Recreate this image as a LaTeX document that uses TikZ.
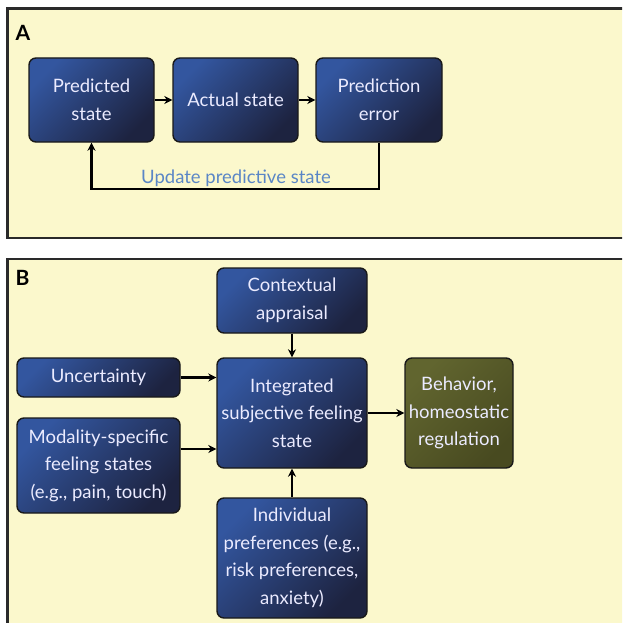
\documentclass[tikz,border=0pt]{standalone}
\usepackage{fontspec}
\setmainfont{Lato}
\usetikzlibrary{arrows.meta}
\definecolor{bg}{HTML}{FBF8CC}
\definecolor{boxlight}{HTML}{33569F}
\definecolor{boxdark}{HTML}{1D2340}
\definecolor{olivelight}{HTML}{61652F}
\definecolor{olivedark}{HTML}{484A20}
\definecolor{upd}{HTML}{5A86C6}
\definecolor{frame}{HTML}{2A2A2A}
\tikzset{
  panel/.style={fill=bg, draw=frame, line width=2.4pt},
  box/.style={draw=black!90, line width=1.4pt, rounded corners=7pt,
    top color=boxlight, bottom color=boxdark, shading angle=45,
    text=white!92!blue, align=center, font=\fontsize{18.5}{27.5}\selectfont, inner sep=0pt},
  olivebox/.style={box, top color=olivelight, bottom color=olivedark, shading angle=45},
  arr/.style={-{Stealth[length=8pt,width=8pt]}, line width=2.2pt, draw=black},
  plabel/.style={font=\bfseries\fontsize{21}{21}\selectfont, anchor=west},
}
\begin{document}
\begin{tikzpicture}[x=1pt,y=-1pt]
\useasboundingbox (0,0) rectangle (622,623);
\clip (0,0) rectangle (622,623);
% panels
\draw[panel] (7.5,8.5) rectangle (650,238);
\draw[panel] (7.5,259) rectangle (650,660);
\node[plabel] (la) at (12,33) {A};
\node[plabel] (lb) at (12,278) {B};
% panel A
\node[box, minimum width=125pt, minimum height=84pt] (pred) at (91.5,100) {Predicted\\state};
\node[box, minimum width=125pt, minimum height=84pt] (act) at (235.5,100) {Actual state};
\node[box, minimum width=126pt, minimum height=84pt] (perr) at (379,100) {Prediction\\error};
\draw[arr] (pred) -- (act);
\draw[arr] (act) -- (perr);
\coordinate (fb) at (379,189);
\draw[arr] (perr.south) -- (fb) -| (pred.south);
\node[text=upd, font=\fontsize{18.5}{27}\selectfont, anchor=base] (upd) at (236,183) {Update predictive state};
% panel B
\node[box, minimum width=150pt, minimum height=65pt] (ctx) at (292,300.5) {Contextual\\appraisal};
\node[box, minimum width=163pt, minimum height=39pt] (unc) at (98.5,377.5) {Uncertainty};
\node[box, minimum width=150pt, minimum height=110pt] (int) at (292,413) {Integrated\\subjective feeling\\state};
\node[box, minimum width=163pt, minimum height=95pt] (mod) at (98.5,465.5) {Modality-specific\\feeling states\\(e.g., pain, touch)};
\node[olivebox, minimum width=108pt, minimum height=110pt] (beh) at (459,413) {Behavior,\\homeostatic\\regulation};
\node[box, minimum width=150pt, minimum height=120pt] (ind) at (292,558) {Individual\\preferences (e.g.,\\risk preferences,\\anxiety)};
\draw[arr] (ctx) -- (int);
\draw[arr] (unc.east) -- (unc.east -| int.west);
\draw[arr] (mod.east |- 0,449) -- (int.west |- 0,449);
\draw[arr] (int) -- (beh);
\draw[arr] (ind) -- (int);
\end{tikzpicture}
\end{document}
